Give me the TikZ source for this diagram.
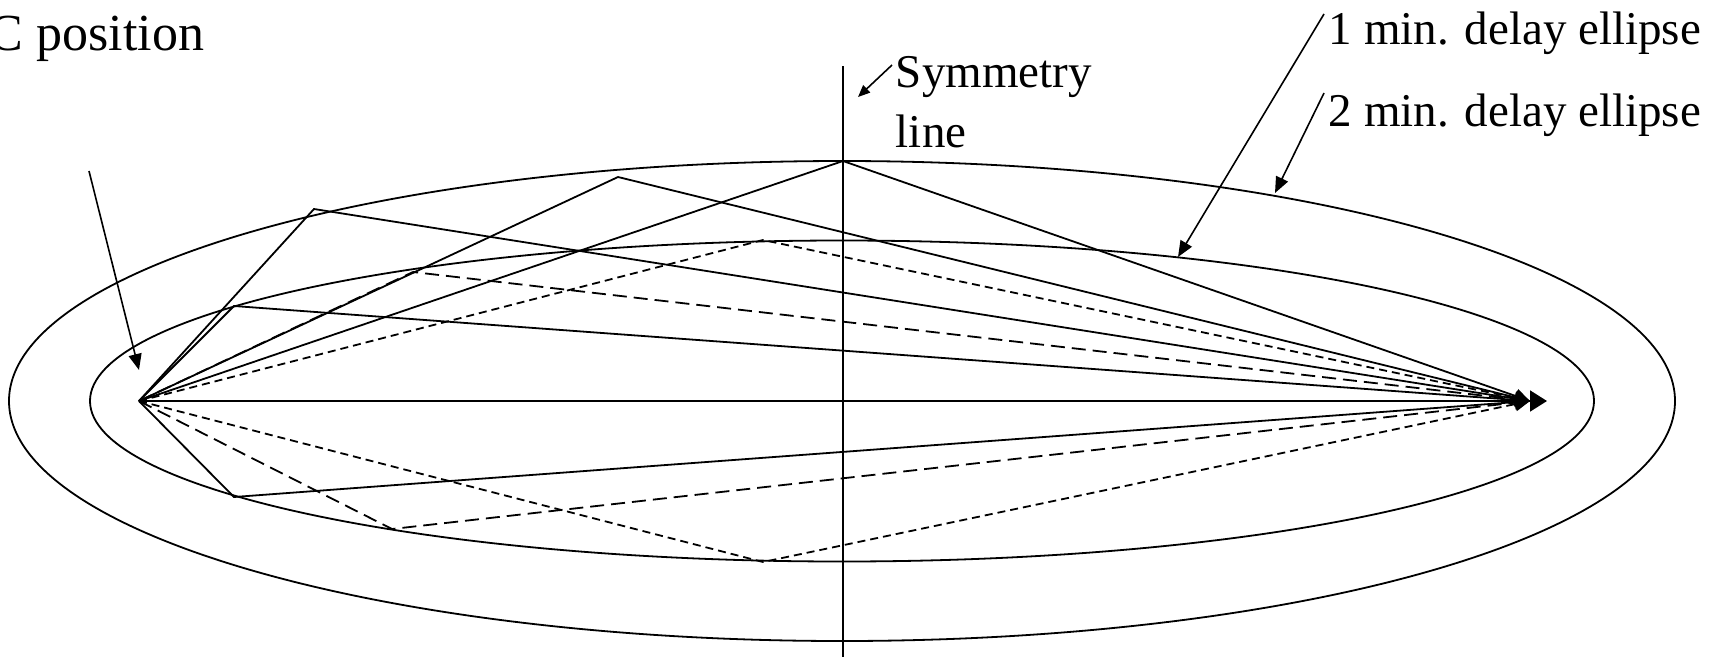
\documentclass[tikz,border=0pt]{standalone}
\usepackage{fontspec}
\setmainfont{Liberation Serif}
\usetikzlibrary{arrows.meta}
\begin{document}
\begin{tikzpicture}[x=1pt,y=-1pt,line width=1.8pt,
  ln/.style={line width=1.8pt},
  longdash/.style={ln,dash pattern=on 14pt off 7pt},
  shortdash/.style={ln,dash pattern=on 8pt off 5pt},
  tipR/.style={-{Triangle[length=15pt,width=14pt]}},
  lbl/.style={inner sep=0pt,font=\fontsize{47}{60}\selectfont},
  lblarrow/.style={line width=1.6pt,-{Triangle[length=16pt,width=13pt]}}]
\useasboundingbox (0,0) rectangle (1721,657);
% ellipses
\draw[ln] (842,401) ellipse [x radius=752, y radius=160.5];
\draw[ln] (842,401) ellipse [x radius=833, y radius=240];
% symmetry line
\coordinate (symtop) at (843,66);
\coordinate (symbot) at (843,657);
\draw[ln] (symtop) -- (symbot);
% key points
\coordinate (L) at (139,401);
\coordinate (R) at (1530,401);
\coordinate (Rend) at (1547,401);
\coordinate (s1) at (234,306);
\coordinate (s2) at (314,209);
\coordinate (s3) at (618,177);
\coordinate (s4) at (843,161);
\coordinate (s5) at (234,497);
\coordinate (d1) at (413,272);
\coordinate (d2) at (392,529);
\coordinate (t1) at (763,240);
\coordinate (t2) at (763,562);
% solid paths
\draw[ln,tipR] (L) -- (s1) -- (R);
\draw[ln,tipR] (L) -- (s2) -- (R);
\draw[ln,tipR] (L) -- (s3) -- (R);
\draw[ln,tipR] (L) -- (s4) -- (R);
\draw[ln,tipR] (L) -- (s5) -- (R);
% long dashed paths
\draw[longdash,tipR] (L) -- (d1) -- (R);
\draw[longdash,tipR] (L) -- (d2) -- (R);
% short dashed paths
\draw[shortdash,tipR] (L) -- (t1) -- (R);
\draw[shortdash,tipR] (L) -- (t2) -- (R);
% direct path
\draw[ln,-{Triangle[length=17pt,width=21pt]}] (L) -- (Rend);
% labels
\node[lbl,anchor=base west,font=\fontsize{52}{62}\selectfont] (cpos) at (-12,50) {C position};
\node[lbl,anchor=base west,align=left] (sym) at (895,147) {Symmetry\\line};
\node[lbl,anchor=base west] (one) at (1328,44) {1 min. delay ellipse};
\node[lbl,anchor=base west] (two) at (1328,126) {2 min. delay ellipse};
% label arrows
\coordinate (cposA) at (89,171);
\coordinate (cposB) at (139,370);
\draw[lblarrow] (cposA) -- (cposB);
\coordinate (symA) at (892,65);
\coordinate (symB) at (858,97);
\draw[line width=1.6pt,-{Triangle[length=12pt,width=10pt]}] (symA) -- (symB);
\coordinate (oneA) at (1324,14);
\coordinate (oneB) at (1178,257);
\draw[lblarrow] (oneA) -- (oneB);
\coordinate (twoA) at (1324,93);
\coordinate (twoB) at (1275,193);
\draw[lblarrow] (twoA) -- (twoB);
\end{tikzpicture}
\end{document}
